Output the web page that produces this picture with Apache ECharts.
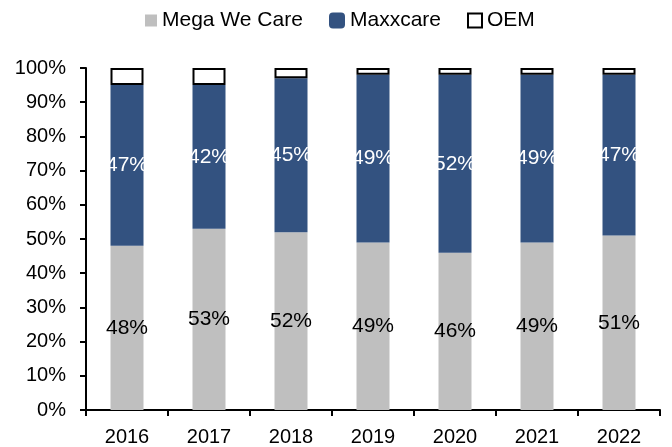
<!DOCTYPE html>
<html>
<head>
<meta charset="utf-8">
<script src="https://cdn.jsdelivr.net/npm/echarts@6/dist/echarts.min.js"></script>
<style>
html,body{margin:0;padding:0;background:#fff;}
#main{width:672px;height:447px;}
</style>
</head>
<body>
<div id="main"></div>
<script>
var years = ["2016", "2017", "2018", "2019", "2020", "2021", "2022"];
var megaWeCare = [48, 53, 52, 49, 46, 49, 51];
var maxxcare = [47, 42, 45, 49, 52, 49, 47];
var oem = [5, 5, 3, 2, 2, 2, 2];
var yTicks = [0, 10, 20, 30, 40, 50, 60, 70, 80, 90, 100];

var myChart = echarts.init(document.getElementById('main'));
var font = 'Liberation Sans, Arial, sans-serif';

// one legend per item so each icon can have its own size / position
function legendItem(name, icon, left, size) {
    return {
        top: 5,
        left: left,
        itemWidth: size,
        itemHeight: size,
        textStyle: {fontSize: 21, color: '#000', fontFamily: font},
        data: [{name: name, icon: icon}]
    };
}

var option = {
    animation: false,
    textStyle: {fontFamily: font},
    legend: [
        legendItem('Mega We Care', 'rect', 140, 12),
        legendItem('Maxxcare', 'roundRect', 324, 16),
        legendItem('OEM', 'rect', 462, 14)
    ],
    grid: {left: 86, right: 12, top: 68, bottom: 37},
    xAxis: {
        type: 'category',
        data: years,
        axisLine: {lineStyle: {color: '#000', width: 2}},
        axisTick: {show: true, length: 6, lineStyle: {color: '#000', width: 2}},
        axisLabel: {fontSize: 20, color: '#000', margin: 17, fontFamily: font}
    },
    yAxis: {
        type: 'value',
        min: yTicks[0],
        max: yTicks[yTicks.length - 1],
        interval: 10,
        splitLine: {show: false},
        axisLine: {show: true, lineStyle: {color: '#000', width: 2}},
        axisTick: {show: true, length: 6, lineStyle: {color: '#000', width: 2}},
        axisLabel: {fontSize: 20, color: '#000', margin: 20, formatter: '{value}%', fontFamily: font}
    },
    series: [
        {
            name: 'Mega We Care',
            type: 'bar',
            stack: 'total',
            barWidth: 33,
            data: megaWeCare,
            itemStyle: {color: '#BFBFBF'},
            label: {show: true, position: 'inside', formatter: '{c}%', fontSize: 21, color: '#000', fontFamily: font}
        },
        {
            name: 'Maxxcare',
            type: 'bar',
            stack: 'total',
            data: maxxcare,
            itemStyle: {color: '#335280'},
            label: {show: true, position: 'inside', formatter: '{c}%', fontSize: 21, color: '#fff', fontFamily: font}
        },
        {
            name: 'OEM',
            type: 'bar',
            stack: 'total',
            data: oem,
            itemStyle: {color: '#fff', borderColor: '#000', borderWidth: 2}
        }
    ]
};
myChart.setOption(option);
</script>
</body>
</html>
